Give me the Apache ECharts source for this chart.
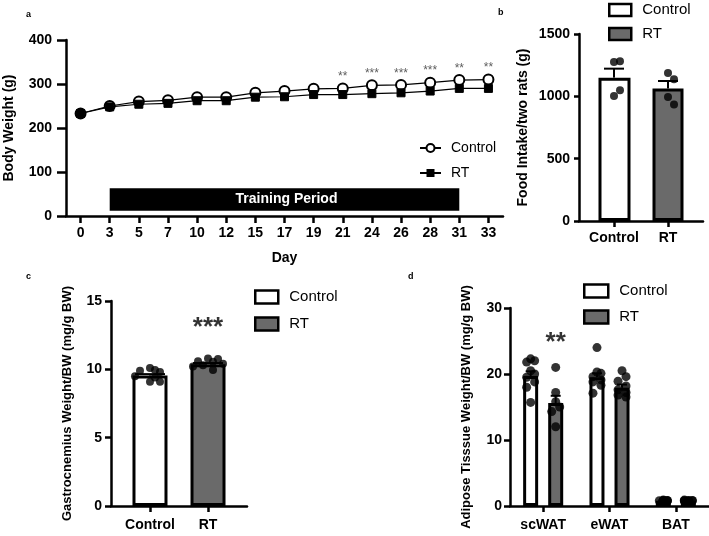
<!DOCTYPE html>
<html><head><meta charset="utf-8">
<script src="https://cdn.jsdelivr.net/npm/echarts@6/dist/echarts.min.js"></script>
<style>html,body{margin:0;padding:0;background:#fff}#main{width:709px;height:536px}</style>
</head><body><div id="main"></div>
<script>
// ---------- Panel a : body weight ----------
const days = ['0','3','5','7','10','12','15','17','19','21','24','26','28','31','33'];
const bodyWeightControl = [233,250,260,263,270,270,280,284,289,290,297,298,303,309,310];
const bodyWeightRT      = [233,248,254,256,262,262,270,271,276,276,278,280,284,290,290];
const sigDaysA   = ['21','24','26','28','31','33'];
const sigLabelsA = ['**','***','***','***','**','**'];
const trainingStart = '3', trainingEnd = '31', trainingLow = 12, trainingHigh = 63;
const trainingLabel = 'Training Period';

// ---------- Panel b : food intake ----------
const groups = ['Control','RT'];
const foodIntakeMean = [1150, 1063];
const foodIntakeSem  = [72, 60];
const foodIntakeControl = [1275, 1281, 1003, 1048];
const foodIntakeRT      = [1187, 1137, 995, 934];

// ---------- Panel c : gastrocnemius ----------
const gastroMean = [9.55, 10.38];
const gastroSem  = [0.1, 0.08];
const gastroControl = [10.1, 9.1, 9.8, 9.9, 9.1, 9.95, 9.5, 9.4];
const gastroRT      = [10.8, 10.75, 10.6, 10.55, 10.4, 10.3, 10.2, 9.95];
const sigLabelC = '***';

// ---------- Panel d : adipose tissue ----------
const tissues = ['scWAT','eWAT','BAT'];
const adiposeMeanControl = [19.7, 19.5, 0.8];
const adiposeSemControl  = [0.7, 0.6, 0.05];
const adiposeMeanRT      = [15.6, 17.9, 0.8];
const adiposeSemRT       = [1.1, 0.5, 0.05];
const scWATControl = [22.3, 22.0, 21.8, 20.5, 20.0, 19.5, 18.8, 18.0, 15.7];
const scWATRT      = [21.0, 17.2, 15.8, 15.0, 14.3, 12.0];
const eWATControl  = [24.0, 20.3, 20.1, 19.6, 19.1, 18.8, 18.3, 17.1];
const eWATRT       = [20.5, 19.6, 18.9, 18.2, 17.6, 17.2, 16.8, 16.5];
const BATControl   = [0.9, 0.85, 0.8, 0.8, 0.75, 0.8, 0.7, 0.85];
const BATRT        = [0.85, 0.8, 0.9, 0.75, 0.8, 0.85, 0.8, 0.7];
const sigTissueD = 'scWAT', sigLabelD = '**';

// ---------- styling / layout ----------
const FONT = "'Liberation Sans', Arial, sans-serif";
const GREY = '#6a6a6a';
const AXW = 2.5;
const grids = [
  {left: 66,  top: 40,  width: 437, height: 176, outerBoundsMode: 'none', containLabel: false},
  {left: 579, top: 34,  width: 124, height: 187, outerBoundsMode: 'none', containLabel: false},
  {left: 111, top: 301, width: 136, height: 205, outerBoundsMode: 'none', containLabel: false},
  {left: 510, top: 308, width: 199, height: 198, outerBoundsMode: 'none', containLabel: false}
];
const yMax = [400, 1500, 15, 30];
const dBarW = 15, dBarGap = 0.67;
const dOff = (dBarW + dBarW * dBarGap) / 2;

function swarm(values, pxPerUnit, diameter, step, maxOff) {
  const placed = [];
  return values.map(v => {
    const y = v * pxPerUnit;
    let best = 0, bestClear = -1;
    for (let k = 0; k < 30; k++) {
      const cand = k === 0 ? 0 : (k % 2 ? 1 : -1) * Math.ceil(k / 2) * step;
      if (Math.abs(cand) > maxOff) continue;
      let clear = Infinity;
      placed.forEach(p => { clear = Math.min(clear, Math.hypot(p.dx - cand, p.y - y)); });
      if (clear >= diameter) { best = cand; bestClear = clear; break; }
      if (clear > bestClear) { bestClear = clear; best = cand; }
    }
    placed.push({y, dx: best});
    return best;
  });
}

function pointSeries(name, gi, xVals, values, pxPerUnit, baseOff, size, step, maxOff) {
  const offs = swarm(values, pxPerUnit, size, step, maxOff);
  return {
    name, type: 'scatter', xAxisIndex: gi, yAxisIndex: gi, z: 5,
    symbol: 'circle', symbolSize: size, itemStyle: {color: '#000'},
    data: values.map((v, i) => ({value: [xVals, v], symbolOffset: [baseOff + offs[i], 0]}))
  };
}

function errRender(offsetPx, capW) {
  return (params, api) => {
    const x = api.value(0), m = api.value(1), s = api.value(2);
    const p0 = api.coord([x, m]), p1 = api.coord([x, m + s]);
    const cx = p0[0] + offsetPx;
    return {type: 'group', children: [
      {type: 'line', shape: {x1: cx, y1: p0[1], x2: cx, y2: p1[1]}, style: {stroke: '#000', lineWidth: 2}},
      {type: 'line', shape: {x1: cx - capW / 2, y1: p1[1], x2: cx + capW / 2, y2: p1[1]}, style: {stroke: '#000', lineWidth: 2}}
    ]};
  };
}
function errSeries(gi, data, offsetPx, capW) {
  return {type: 'custom', xAxisIndex: gi, yAxisIndex: gi, z: 4,
    renderItem: errRender(offsetPx, capW), data,
    encode: {x: 0, y: [1, 2]}};
}

function valueY(gi, max, interval, name, nameGap, margin, tickLen, nameSize) {
  return {
    gridIndex: gi, type: 'value', min: 0, max, interval,
    name, nameLocation: 'middle', nameGap, nameRotate: 90,
    nameTextStyle: {fontFamily: FONT, fontWeight: 'bold', fontSize: nameSize, color: '#000'},
    axisLine: {show: true, onZero: false, lineStyle: {color: '#000', width: AXW}},
    axisTick: {show: true, length: tickLen, lineStyle: {color: '#000', width: AXW}},
    axisLabel: {fontFamily: FONT, fontWeight: 'bold', fontSize: 14, color: '#000', margin, formatter: v => String(v)},
    splitLine: {show: false}
  };
}
function groupX(gi, min, max, margin) {
  return {
    gridIndex: gi, type: 'value', min, max,
    axisLine: {show: true, onZero: false, lineStyle: {color: '#000', width: AXW}},
    axisTick: {show: true, length: 6, customValues: [0, 1], lineStyle: {color: '#000', width: AXW}},
    axisLabel: {customValues: [0, 1], formatter: v => groups[Math.round(v)],
      fontFamily: FONT, fontWeight: 'bold', fontSize: 14, color: '#000', margin},
    splitLine: {show: false}
  };
}
const labelFmt = n => n.replace(/_.*/, '');
function barLegend(names, left, top, gap, w, h) {
  return {
    data: names, orient: 'vertical', left, top, padding: 0, itemGap: gap, itemWidth: w, itemHeight: h,
    icon: 'rect', selectedMode: false, formatter: labelFmt,
    itemStyle: {borderColor: '#000', borderWidth: 2.5},
    textStyle: {fontFamily: FONT, fontSize: 15, color: '#000', padding: [0, 0, 0, 6], lineHeight: 18}
  };
}
function barSeries(name, gi, data, color, barWidth) {
  return {name, type: 'bar', xAxisIndex: gi, yAxisIndex: gi, barWidth, barGap: '-100%', z: 2,
    itemStyle: {color, borderColor: '#000', borderWidth: 3}, data};
}

const series = [];
// Panel a
series.push({
  type: 'custom', xAxisIndex: 0, yAxisIndex: 0, z: 1,
  data: [[days.indexOf(trainingStart), trainingHigh, days.indexOf(trainingEnd), trainingLow]],
  encode: {x: [0, 2], y: [1, 3]},
  renderItem: (params, api) => {
    const p0 = api.coord([api.value(0), api.value(1)]);
    const p1 = api.coord([api.value(2), api.value(3)]);
    return {type: 'group', children: [
      {type: 'rect', shape: {x: p0[0], y: p0[1], width: p1[0] - p0[0], height: p1[1] - p0[1]}, style: {fill: '#000'}},
      {type: 'text', style: {text: trainingLabel, x: (p0[0] + p1[0]) / 2 + 2, y: (p0[1] + p1[1]) / 2,
        align: 'center', verticalAlign: 'middle', fill: '#fff', font: "bold 14px " + FONT}}
    ]};
  }
});
series.push({name: 'Control_a', type: 'line', xAxisIndex: 0, yAxisIndex: 0, z: 3, data: bodyWeightControl,
  symbol: 'circle', symbolSize: 10, lineStyle: {color: '#000', width: 1.2},
  itemStyle: {color: '#fff', borderColor: '#000', borderWidth: 2}});
series.push({name: 'RT_a', type: 'line', xAxisIndex: 0, yAxisIndex: 0, z: 4, data: bodyWeightRT,
  symbol: 'rect', symbolSize: 8, lineStyle: {color: '#000', width: 1.2},
  itemStyle: {color: '#000', borderColor: '#000'}});
series.push({type: 'scatter', xAxisIndex: 0, yAxisIndex: 0, z: 6, symbolSize: 1,
  itemStyle: {color: 'transparent'},
  label: {show: true, position: 'top', distance: 5, fontFamily: FONT, fontSize: 12, color: '#333'},
  data: sigDaysA.map((d, i) => ({value: [d, bodyWeightControl[days.indexOf(d)]], label: {formatter: sigLabelsA[i]}}))
});

// Panel b
const pxB = grids[1].height / yMax[1];
series.push(barSeries('Control_b', 1, [[0, foodIntakeMean[0]]], '#fff', 32));
series.push(barSeries('RT_b', 1, [[1, foodIntakeMean[1]]], GREY, 31));
series.push(errSeries(1, groups.map((g, i) => [i, foodIntakeMean[i], foodIntakeSem[i]]), 0, 20));
series.push(pointSeries('ptsC_b', 1, 0, foodIntakeControl, pxB, 0, 8, 6, 10));
series.push(pointSeries('ptsR_b', 1, 1, foodIntakeRT, pxB, 0, 8, 6, 10));

// Panel c
const pxC = grids[2].height / yMax[2];
series.push(barSeries('Control_c', 2, [[0, gastroMean[0]]], '#fff', 35));
series.push(barSeries('RT_c', 2, [[1, gastroMean[1]]], GREY, 35));
series.push(errSeries(2, groups.map((g, i) => [i, gastroMean[i], gastroSem[i]]), 0, 30));
series.push(pointSeries('ptsC_c', 2, 0, gastroControl, pxC, 0, 8, 5, 17));
series.push(pointSeries('ptsR_c', 2, 1, gastroRT, pxC, 0, 8, 5, 17));
series.push({type: 'scatter', xAxisIndex: 2, yAxisIndex: 2, z: 6, symbolSize: 1, itemStyle: {color: 'transparent'},
  label: {show: true, position: 'top', distance: 22, formatter: sigLabelC, fontFamily: FONT, fontWeight: 'bold', fontSize: 26, color: '#000'},
  data: [[1, gastroMean[1] + gastroSem[1]]]});

// Panel d
const pxD = grids[3].height / yMax[3];
series.push({name: 'Control_d', type: 'bar', xAxisIndex: 3, yAxisIndex: 3, barWidth: dBarW, barGap: (dBarGap * 100) + '%', z: 2,
  itemStyle: {color: '#fff', borderColor: '#000', borderWidth: 3}, data: adiposeMeanControl});
series.push({name: 'RT_d', type: 'bar', xAxisIndex: 3, yAxisIndex: 3, barWidth: dBarW, barGap: (dBarGap * 100) + '%', z: 2,
  itemStyle: {color: GREY, borderColor: '#000', borderWidth: 3}, data: adiposeMeanRT});
series.push(errSeries(3, tissues.map((t, i) => [i, adiposeMeanControl[i], adiposeSemControl[i]]), -dOff, 10));
series.push(errSeries(3, tissues.map((t, i) => [i, adiposeMeanRT[i], adiposeSemRT[i]]), dOff, 10));
[[scWATControl, scWATRT], [eWATControl, eWATRT], [BATControl, BATRT]].forEach((pair, i) => {
  series.push(pointSeries('pC_d' + i, 3, i, pair[0], pxD, -dOff, 9, 4, 6));
  series.push(pointSeries('pR_d' + i, 3, i, pair[1], pxD, dOff, 9, 4, 6));
});
const sigIdx = tissues.indexOf(sigTissueD);
series.push({type: 'scatter', xAxisIndex: 3, yAxisIndex: 3, z: 6, symbolSize: 1, itemStyle: {color: 'transparent'},
  symbolOffset: [dOff, 0],
  label: {show: true, position: 'top', distance: 39, formatter: sigLabelD, fontFamily: FONT, fontWeight: 'bold', fontSize: 26, color: '#000'},
  data: [[sigIdx, adiposeMeanRT[sigIdx] + adiposeSemRT[sigIdx]]]});

const option = {
  animation: false,
  backgroundColor: '#fff',
  textStyle: {fontFamily: FONT},
  grid: grids,
  xAxis: [
    {gridIndex: 0, type: 'category', data: days, boundaryGap: true,
      name: 'Day', nameLocation: 'middle', nameGap: 35,
      nameTextStyle: {fontFamily: FONT, fontWeight: 'bold', fontSize: 14, color: '#000'},
      axisLine: {show: true, onZero: false, lineStyle: {color: '#000', width: AXW}},
      axisTick: {show: true, alignWithLabel: true, length: 7, lineStyle: {color: '#000', width: AXW}},
      axisLabel: {fontFamily: FONT, fontWeight: 'bold', fontSize: 14, color: '#000', margin: 10, interval: 0},
      splitLine: {show: false}},
    groupX(1, -0.648, 1.648, 10),
    groupX(2, -0.672, 1.672, 12),
    {gridIndex: 3, type: 'category', data: tissues, boundaryGap: true,
      axisLine: {show: true, onZero: false, lineStyle: {color: '#000', width: AXW}},
      axisTick: {show: true, alignWithLabel: true, length: 6, lineStyle: {color: '#000', width: AXW}},
      axisLabel: {fontFamily: FONT, fontWeight: 'bold', fontSize: 14, color: '#000', margin: 12, interval: 0},
      splitLine: {show: false}}
  ],
  yAxis: [
    valueY(0, 400, 100, 'Body Weight (g)', 50, 14, 9, 14),
    valueY(1, 1500, 500, 'Food Intake/two rats (g)', 49, 9, 5, 14),
    valueY(2, 15, 5, 'Gastrocnemius Weight/BW (mg/g BW)', 37, 9, 6, 13),
    valueY(3, 30, 10, 'Adipose Tisssue Weight/BW (mg/g BW)', 37, 8, 6, 13)
  ],
  legend: [
    {data: ['Control_a', 'RT_a'], orient: 'vertical', left: 419, top: 140, padding: 0, itemGap: 9, itemWidth: 21, itemHeight: 10,
      selectedMode: false, formatter: labelFmt,
      textStyle: {fontFamily: FONT, fontSize: 14, color: '#000', padding: [0, 0, 0, 5], lineHeight: 16}},
    barLegend(['Control_b', 'RT_b'], 608, 1, 6, 22, 12),
    barLegend(['Control_c', 'RT_c'], 254, 288, 9, 23, 13),
    barLegend(['Control_d', 'RT_d'], 583, 282, 8, 24, 13)
  ],
  graphic: [
    {type: 'text', left: 26, top: 10, style: {text: 'a', font: 'bold 9px ' + FONT, fill: '#000'}},
    {type: 'text', left: 498, top: 8, style: {text: 'b', font: 'bold 9px ' + FONT, fill: '#000'}},
    {type: 'text', left: 26, top: 272, style: {text: 'c', font: 'bold 9px ' + FONT, fill: '#000'}},
    {type: 'text', left: 408, top: 272, style: {text: 'd', font: 'bold 9px ' + FONT, fill: '#000'}}
  ],
  series
};
const chart = echarts.init(document.getElementById('main'), null, {renderer: 'canvas'});
chart.setOption(option);
</script></body></html>
